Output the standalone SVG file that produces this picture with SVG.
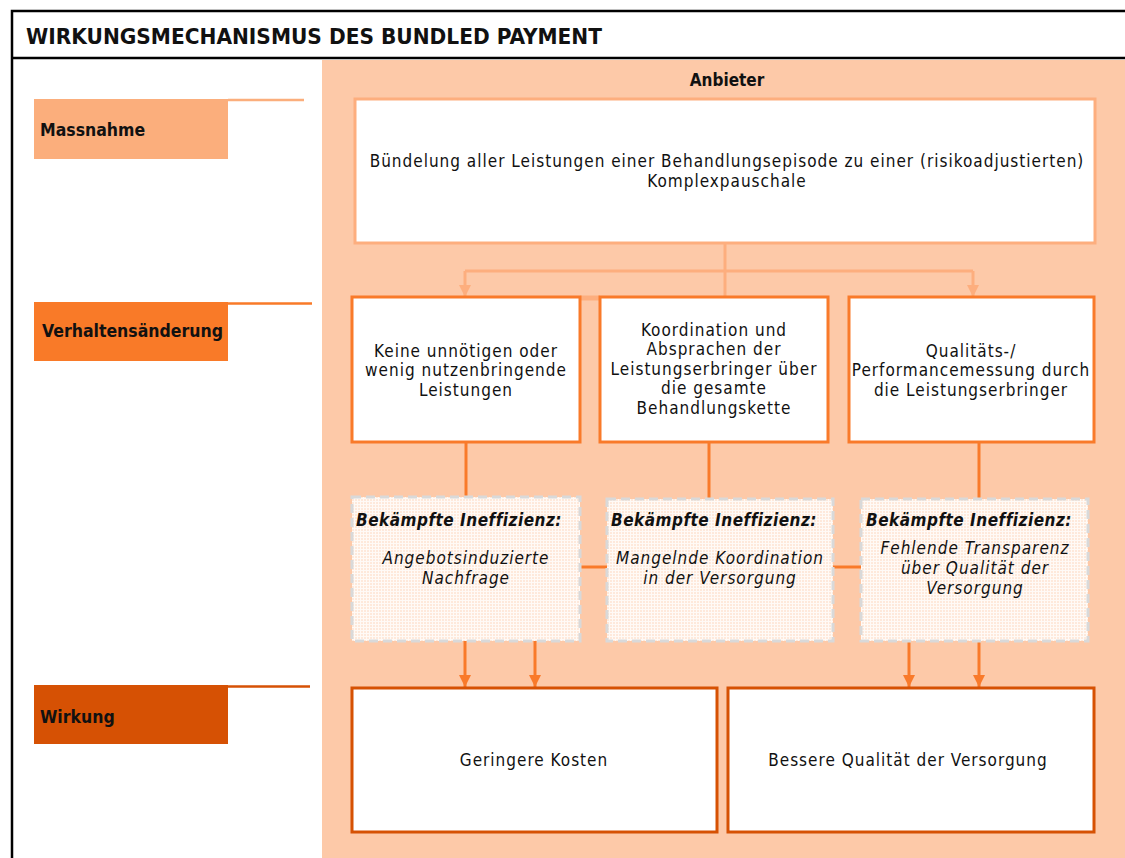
<svg xmlns="http://www.w3.org/2000/svg" width="1125" height="858" viewBox="0 0 1125 858">
<style>
text{font-family:"DejaVu Sans Condensed","Liberation Sans",sans-serif;fill:#111}
.t{font-size:17px;letter-spacing:1px;text-anchor:middle}
.lab{font-size:17.5px;font-weight:bold}
.bi{font-size:17px;font-weight:bold;font-style:italic;letter-spacing:0.5px}
.it{font-size:17px;font-style:italic;letter-spacing:1px;text-anchor:middle}
.mid{fill:#fff;stroke:#F97A2A;stroke-width:3}
.bot{fill:#fff;stroke:#D65103;stroke-width:3}
.dash{fill:url(#grid);stroke:#D9D9D9;stroke-width:3;stroke-dasharray:9 5}
.lc{stroke:#FDAE7E;stroke-width:3;fill:none}
.oc{stroke:#F97A2A;stroke-width:3;fill:none}
</style>
<defs>
<pattern id="grid" width="3" height="3" patternUnits="userSpaceOnUse">
<rect width="3" height="3" fill="#FEE9DB"/>
<path d="M0 0.5H3M0.5 0V3" stroke="#FFFAF6" stroke-width="1"/>
</pattern>
<marker id="ah" markerWidth="4" markerHeight="4" refX="4" refY="2" orient="auto" markerUnits="strokeWidth" viewBox="0 0 4 4">
<path d="M0 0L4 2L0 4Z" fill="#F97A2A"/>
</marker>
<marker id="ahl" markerWidth="4" markerHeight="4" refX="4" refY="2" orient="auto" markerUnits="strokeWidth" viewBox="0 0 4 4">
<path d="M0 0L4 2L0 4Z" fill="#FDAE7E"/>
</marker>
</defs>
<rect width="1125" height="858" fill="#fff"/>
<!-- frame -->
<path d="M12 858V11H1125M12 58H1125" stroke="#000" stroke-width="2.5" fill="none"/>
<text x="26" y="44" style="font-size:21px;font-weight:bold" textLength="576" lengthAdjust="spacingAndGlyphs">WIRKUNGSMECHANISMUS DES BUNDLED PAYMENT</text>
<rect x="322" y="60" width="803" height="798" fill="#FDC9A8"/>
<text x="727" y="86" style="font-size:17px;font-weight:bold;text-anchor:middle">Anbieter</text>

<g id="row-labels">
<g id="lab-massnahme"><rect x="34" y="99" width="194" height="60" fill="#FBAE7C"/><path d="M228 100H304" stroke="#FBAE7C" stroke-width="2.5"/><text class="lab" x="40" y="136">Massnahme</text></g>
<g id="lab-verhalten"><rect x="34" y="302" width="194" height="59" fill="#F97A28"/><path d="M228 303.5H312" stroke="#F97A28" stroke-width="2.5"/><text class="lab" x="42" y="337">Verhaltensänderung</text></g>
<g id="lab-wirkung"><rect x="34" y="685" width="194" height="59" fill="#D65104"/><path d="M228 686.5H310" stroke="#D65104" stroke-width="2.5"/><text class="lab" x="40" y="723">Wirkung</text></g>
</g>

<g id="connectors">
<path class="lc" d="M725 243V297"/>
<path class="lc" d="M465 271H973"/>
<path class="lc" d="M465 271V297" marker-end="url(#ahl)"/>
<path class="lc" d="M973 271V297" marker-end="url(#ahl)"/>
<path d="M580 298H600" stroke="#FDAE7E" stroke-width="5"/>
<path class="oc" d="M466 442V497"/>
<path class="oc" d="M709 442V499"/>
<path class="oc" d="M979 442V499"/>
<path class="oc" d="M580 567H607"/>
<path class="oc" d="M833 567H861"/>
<path class="oc" d="M465 641V687" marker-end="url(#ah)"/>
<path class="oc" d="M535 641V687" marker-end="url(#ah)"/>
<path class="oc" d="M909 641V687" marker-end="url(#ah)"/>
<path class="oc" d="M979 641V687" marker-end="url(#ah)"/>
</g>

<g id="n-top"><rect x="355" y="99" width="740" height="144" fill="#fff" stroke="#FDAE7E" stroke-width="3"/>
<text class="t" x="727" y="167">Bündelung aller Leistungen einer Behandlungsepisode zu einer (risikoadjustierten)</text>
<text class="t" x="727" y="187">Komplexpauschale</text></g>

<g id="n-b1"><rect class="mid" x="352" y="297" width="228" height="145"/>
<text class="t" x="466" y="357">Keine unnötigen oder</text>
<text class="t" x="466" y="376">wenig nutzenbringende</text>
<text class="t" x="466" y="396">Leistungen</text></g>
<g id="n-b2"><rect class="mid" x="600" y="297" width="228" height="145"/>
<text class="t" x="714" y="336">Koordination und</text>
<text class="t" x="714" y="355">Absprachen der</text>
<text class="t" x="714" y="375">Leistungserbringer über</text>
<text class="t" x="714" y="394">die gesamte</text>
<text class="t" x="714" y="414">Behandlungskette</text></g>
<g id="n-b3"><rect class="mid" x="849" y="297" width="245" height="145"/>
<text class="t" x="971" y="357">Qualitäts-/</text>
<text class="t" x="971" y="376">Performancemessung durch</text>
<text class="t" x="971" y="396">die Leistungserbringer</text></g>

<g id="n-d1"><rect class="dash" x="352" y="497" width="228" height="144"/>
<text class="bi" x="356" y="526">Bekämpfte Ineffizienz:</text>
<text class="it" x="466" y="564">Angebotsinduzierte</text>
<text class="it" x="466" y="584">Nachfrage</text></g>
<g id="n-d2"><rect class="dash" x="607" y="499" width="226" height="142"/>
<text class="bi" x="611" y="526">Bekämpfte Ineffizienz:</text>
<text class="it" x="720" y="564">Mangelnde Koordination</text>
<text class="it" x="720" y="584">in der Versorgung</text></g>
<g id="n-d3"><rect class="dash" x="861" y="499" width="227" height="142"/>
<text class="bi" x="866" y="526">Bekämpfte Ineffizienz:</text>
<text class="it" x="975" y="554">Fehlende  Transparenz</text>
<text class="it" x="975" y="574">über Qualität der</text>
<text class="it" x="975" y="594">Versorgung</text></g>

<g id="n-e1"><rect class="bot" x="352" y="688" width="365" height="144"/>
<text class="t" x="534" y="766">Geringere Kosten</text></g>
<g id="n-e2"><rect class="bot" x="728" y="688" width="366" height="144"/>
<text class="t" x="908" y="766">Bessere Qualität der Versorgung</text></g>
</svg>
